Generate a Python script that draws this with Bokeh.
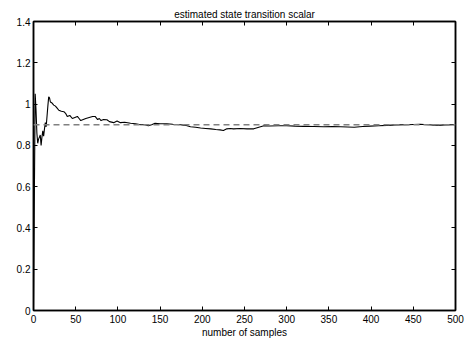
from bokeh.plotting import figure
from bokeh.models import Range1d, LinearAxis, FixedTicker, Span
from bokeh.embed import file_html
from bokeh.resources import INLINE

# data
samples = [0, 1, 2, 3, 4, 5, 6, 7, 8, 9, 10, 11, 12, 13, 14, 15, 16, 17, 18, 19, 20,
           22, 24, 26, 28, 30, 33, 36, 38, 40, 43, 46, 49, 52, 54, 56, 59, 62, 66, 70,
           73, 76, 78, 80, 83, 87, 90, 95, 99, 103, 108, 115, 121, 127, 132, 136, 140,
           144, 150, 158, 165, 174, 180, 186, 192, 198, 204, 210, 216, 221, 225, 229,
           233, 237, 245, 253, 261, 267, 273, 280, 290, 300, 310, 320, 332, 344, 354,
           364, 372, 380, 390, 399, 409, 419, 430, 443, 450, 458, 468, 478, 488, 500]
estimate = [0.0, 0.55, 1.05, 0.97, 0.86, 0.81, 0.83, 0.84, 0.85, 0.80, 0.84, 0.87, 0.845,
            0.88, 0.91, 0.89, 0.94, 0.99, 1.035, 1.03, 1.01,
            1.005, 0.995, 0.99, 0.98, 0.97, 0.965, 0.963, 0.955, 0.94, 0.945, 0.93, 0.935,
            0.94, 0.93, 0.92, 0.925, 0.93, 0.935, 0.94,
            0.94, 0.925, 0.93, 0.92, 0.925, 0.924, 0.915, 0.91, 0.918, 0.91, 0.912, 0.907,
            0.905, 0.9, 0.9, 0.895, 0.9,
            0.907, 0.905, 0.905, 0.902, 0.9, 0.897, 0.89, 0.888, 0.884, 0.882, 0.88, 0.877,
            0.875, 0.872, 0.88,
            0.882, 0.88, 0.882, 0.88, 0.88, 0.888, 0.895, 0.894, 0.895, 0.895, 0.893, 0.892,
            0.891, 0.89, 0.891,
            0.89, 0.889, 0.888, 0.891, 0.893, 0.895, 0.897, 0.899, 0.9, 0.901, 0.902, 0.9,
            0.897, 0.899, 0.9]
true_value = 0.9
x_ticks = [0, 50, 100, 150, 200, 250, 300, 350, 400, 450, 500]
y_ticks = [0, 0.2, 0.4, 0.6, 0.8, 1.0, 1.2, 1.4]
y_tick_labels = {0: "0", 0.2: "0.2", 0.4: "0.4", 0.6: "0.6", 0.8: "0.8", 1.0: "1",
                 1.2: "1.2", 1.4: "1.4"}
title_text = "estimated state transition scalar"
xlabel_text = "number of samples"

FONT = "Liberation Sans"

p = figure(width=466, height=340, output_backend="svg", toolbar_location=None,
           x_range=Range1d(0, 500), y_range=Range1d(0, 1.4),
           min_border_left=33, min_border_right=11, min_border_top=21,
           min_border_bottom=28, x_axis_location=None, y_axis_location=None,
           title=title_text)
p.background_fill_color = "white"
p.border_fill_color = "white"
p.grid.visible = False
p.outline_line_color = "black"
p.outline_line_width = 1.5

p.title.text_font = FONT
p.title.text_font_size = "10px"
p.title.text_font_style = "normal"
p.title.align = "center"
p.title.text_color = "black"
p.title.standoff = 4

def style_axis(ax, labels=True):
    ax.axis_line_color = "black"
    ax.axis_line_width = 1.5
    ax.major_tick_in = 4
    ax.major_tick_out = 0
    ax.minor_tick_line_color = None
    ax.major_tick_line_color = "black"
    ax.major_label_text_font = FONT
    ax.major_label_text_font_size = "10px"
    ax.major_label_text_color = "black"
    ax.major_label_standoff = 4
    if not labels:
        ax.major_label_text_font_size = "0px"
        ax.major_label_text_alpha = 0

xb = LinearAxis(ticker=FixedTicker(ticks=x_ticks), axis_label=xlabel_text)
style_axis(xb)
xb.axis_label_text_font = FONT
xb.axis_label_text_font_size = "10px"
xb.axis_label_text_font_style = "normal"
xb.axis_label_text_color = "black"
xb.axis_label_standoff = 1
xa = LinearAxis(ticker=FixedTicker(ticks=x_ticks))
style_axis(xa, labels=False)
yl = LinearAxis(ticker=FixedTicker(ticks=y_ticks),
                major_label_overrides=y_tick_labels)
style_axis(yl)
yl.major_label_standoff = 3
yr = LinearAxis(ticker=FixedTicker(ticks=y_ticks))
style_axis(yr, labels=False)
p.add_layout(xb, "below")
p.add_layout(xa, "above")
p.add_layout(yl, "left")
p.add_layout(yr, "right")

p.add_layout(Span(location=true_value, dimension="width", line_color="#808080",
                  line_width=1.5, line_dash="6 4"))
p.line(samples, estimate, line_color="black", line_width=1.1)

open("out.html", "w").write(file_html(p, INLINE))
